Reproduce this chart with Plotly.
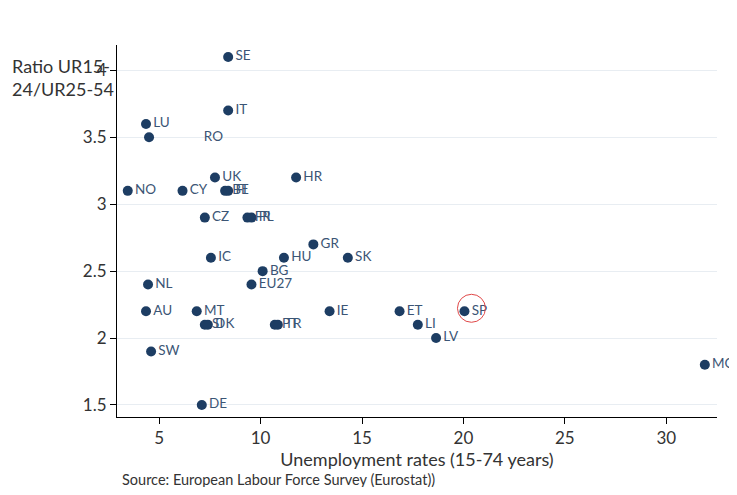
import plotly.graph_objects as go

# country codes, unemployment rate 15-74 and ratio UR15-24/UR25-54
codes = ["SE", "IT", "LU", "", "UK", "HR", "NO", "CY", "BE", "FI",
         "CZ", "FR", "PL", "GR", "IC", "HU", "SK", "BG", "NL", "EU27",
         "AU", "MT", "IE", "ET", "SP", "SI", "DK", "PT", "TR", "LI",
         "LV", "SW", "DE", "MC"]
unemp = [8.4, 8.4, 4.35, 4.5, 7.75, 11.75, 3.45, 6.15, 8.25, 8.4,
         7.25, 9.35, 9.55, 12.6, 7.55, 11.15, 14.3, 10.1, 4.45, 9.55,
         4.35, 6.85, 13.4, 16.85, 20.05, 7.25, 7.4, 10.7, 10.85, 17.75,
         18.65, 4.6, 7.1, 31.9]
ratio = [4.1, 3.7, 3.6, 3.5, 3.2, 3.2, 3.1, 3.1, 3.1, 3.1,
         2.9, 2.9, 2.9, 2.7, 2.6, 2.6, 2.6, 2.5, 2.4, 2.4,
         2.2, 2.2, 2.2, 2.2, 2.2, 2.1, 2.1, 2.1, 2.1, 2.1,
         2.0, 1.9, 1.5, 1.8]

# label printed without its marker in the original
stray_label = ["RO"]
stray_x = [7.2]
stray_y = [3.5]

highlight = "SP"

FONT = "Lato"
navy = "#1d3d63"
lab = dict(family=FONT, size=13.5, color="#3b5575")

fig = go.Figure()
fig.add_trace(go.Scatter(
    x=unemp, y=ratio, mode="markers+text", text=codes,
    textposition="middle right", textfont=lab, cliponaxis=False,
    marker=dict(size=10, color=navy),
    hoverinfo="x+y+text", showlegend=False))
fig.add_trace(go.Scatter(
    x=stray_x, y=stray_y, mode="text", text=stray_label,
    textposition="middle right", textfont=lab, cliponaxis=False,
    showlegend=False))

i = codes.index(highlight)
fig.add_shape(type="circle", xref="x", yref="y",
              xsizemode="pixel", ysizemode="pixel",
              xanchor=unemp[i], yanchor=ratio[i],
              x0=-7, x1=21, y0=-11, y1=17,
              line=dict(color="#e04848", width=1))

fig.update_xaxes(range=[2.92, 32.5], tickvals=[5, 10, 15, 20, 25, 30],
                 showline=True, linecolor="black", linewidth=1,
                 ticks="outside", ticklen=6, tickcolor="black",
                 showgrid=False, zeroline=False,
                 tickfont=dict(family=FONT, size=17, color="#333"),
                 title=dict(text="Unemployment rates (15-74 years)",
                            font=dict(family=FONT, size=18, color="#333"),
                            standoff=0))
fig.update_yaxes(range=[1.41, 4.19], dtick=0.5, tick0=1.5,
                 showline=True, linecolor="black", linewidth=1,
                 ticks="outside", ticklen=6, tickcolor="black",
                 showgrid=True, gridcolor="#e8edf2", zeroline=False,
                 tickfont=dict(family=FONT, size=17, color="#333"))

fig.add_annotation(text="Ratio UR15-<br>24/UR25-54", xref="paper", yref="paper",
                   x=-0.178, y=0.978, xanchor="left", yanchor="top", align="left",
                   showarrow=False, font=dict(family=FONT, size=18, color="#333"))
fig.add_annotation(text="Source: European Labour Force Survey (Eurostat))",
                   xref="paper", yref="paper", x=0.005, y=-0.169,
                   xanchor="left", yanchor="middle", showarrow=False,
                   font=dict(family=FONT, size=14.5, color="#333"))

# page body adds an 8px offset, so the figure is kept inside the window
fig.update_layout(width=729, height=479, plot_bgcolor="white", paper_bgcolor="white",
                  margin=dict(l=109, r=20, t=37, b=70))

fig.write_html("out.html")
